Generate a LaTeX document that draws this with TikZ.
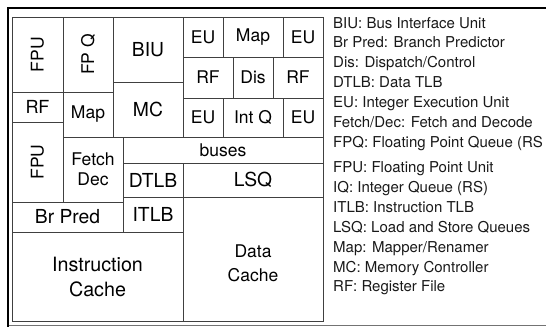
\documentclass[tikz,border=0pt]{standalone}
\usepackage{fontspec}
\setmainfont{TeX Gyre Heros}
\begin{document}
\begin{tikzpicture}[x=1pt,y=-1pt,
  blk/.style={draw=black!75,line width=0.9pt,inner sep=0pt,outer sep=0pt,align=center,text=black},
  big/.style={font=\fontsize{19.3}{25}\selectfont},
  med/.style={font=\fontsize{17.5}{20}\selectfont},
  leg/.style={anchor=base west,inner sep=0pt,text=black!90,font=\fontsize{15}{18}\selectfont}]
\useasboundingbox (0,0) rectangle (546,327);
\clip (0,0) rectangle (546,327);
% outer frame
\draw[line width=1.6pt,black!55] (7,325.5) -- (546,325.5);
\draw[line width=2pt,black] (546,7.5) -- (7.5,7.5) -- (7.5,327);
% blocks
\node[blk,med,minimum width=51pt,minimum height=75pt] (fpu1) at (37.5,54.5) {\rotatebox{90}{FPU}};
\node[blk,med,minimum width=50pt,minimum height=75pt] (fpq) at (88,54.5) {\rotatebox{90}{FP Q}};
\node[blk,big,minimum width=70pt,minimum height=65pt] (biu) at (148,49.5) {BIU};
\node[blk,med,minimum width=40pt,minimum height=40pt] (eu1) at (203,37) {EU};
\node[blk,med,minimum width=60pt,minimum height=40pt] (mapr) at (253,37) {Map};
\node[blk,med,minimum width=40pt,minimum height=40pt] (eu2) at (303,37) {EU};
\node[blk,med,minimum width=50pt,minimum height=41pt] (rf1) at (208,77.5) {RF};
\node[blk,med,minimum width=40pt,minimum height=41pt] (dis) at (253,77.5) {Dis};
\node[blk,med,minimum width=50pt,minimum height=41pt] (rf2) at (298,77.5) {RF};
\node[blk,med,minimum width=40pt,minimum height=39pt] (eu3) at (203,117.5) {EU};
\node[blk,med,minimum width=60pt,minimum height=39pt] (intq) at (253,117.5) {Int Q};
\node[blk,med,minimum width=40pt,minimum height=39pt] (eu4) at (303,117.5) {EU};
\node[blk,med,font=\fontsize{18}{20}\selectfont,minimum width=51pt,minimum height=30pt] (rfl) at (37.5,107) {RF};
\node[blk,med,minimum width=50pt,minimum height=45pt] (mapl) at (88,114.5) {Map};
\node[blk,big,minimum width=70pt,minimum height=55pt] (mc) at (148,109.5) {MC};
\node[blk,med,minimum width=51pt,minimum height=80pt] (fpu2) at (37.5,162) {\rotatebox{90}{FPU}};
\node[blk,med,minimum width=60pt,minimum height=65pt] (fetch) at (93,169.5) {Fetch\\Dec};
\node[blk,med,minimum width=200pt,minimum height=26pt] (buses) at (223,150) {buses};
\node[blk,big,minimum width=60pt,minimum height=34pt] (dtlb) at (153,180) {DTLB};
\node[blk,big,minimum width=140pt,minimum height=34pt] (lsq) at (253,180) {LSQ};
\node[blk,big,minimum width=111pt,minimum height=30pt] (brpred) at (67.5,217) {Br Pred};
\node[blk,big,minimum width=60pt,minimum height=35pt] (itlb) at (153,214.5) {ITLB};
\node[blk,big,font=\fontsize{19.7}{25}\selectfont,minimum width=171pt,minimum height=89pt] (icache) at (97.5,276.5) {Instruction\\Cache};
\node[blk,med,minimum width=140pt,minimum height=124pt] (dcache) at (253,259) {};
\node[align=center,med,font=\fontsize{17.5}{24}\selectfont,inner sep=0pt] (dctext) at (253,263.5) {Data\\Cache};
% legend
\node[leg] (l1) at (333,28) {BIU: Bus Interface Unit};
\node[leg] (l2) at (333,47.8) {Br Pred: Branch Predictor};
\node[leg] (l3) at (333,67.4) {Dis: Dispatch/Control};
\node[leg] (l4) at (333,87) {DTLB: Data TLB};
\node[leg] (l5) at (333,107) {EU: Integer Execution Unit};
\node[leg] (l6) at (333,127.3) {Fetch/Dec: Fetch and Decode};
\node[leg] (l7) at (333,147) {FPQ: Floating Point Queue (RS};
\node[leg] (l8) at (333,172) {FPU: Floating Point Unit};
\node[leg] (l9) at (333,192.3) {IQ: Integer Queue (RS)};
\node[leg] (l10) at (333,212.3) {ITLB: Instruction TLB};
\node[leg] (l11) at (333,232.3) {LSQ: Load and Store Queues};
\node[leg] (l12) at (333,252.3) {Map: Mapper/Renamer};
\node[leg] (l13) at (333,272.5) {MC: Memory Controller};
\node[leg] (l14) at (333,291.8) {RF: Register File};
\end{tikzpicture}
\end{document}
